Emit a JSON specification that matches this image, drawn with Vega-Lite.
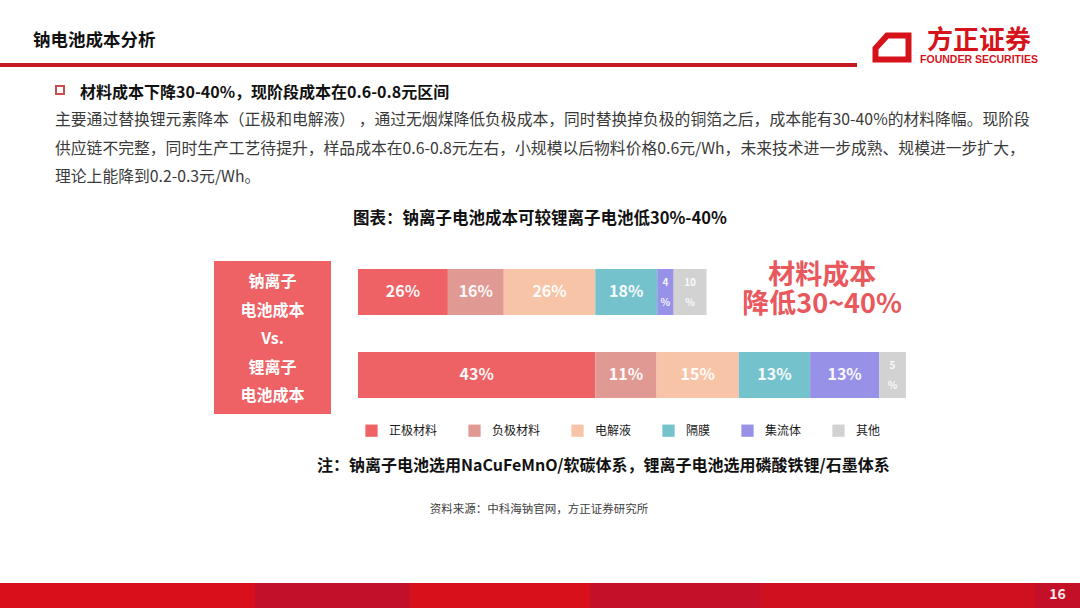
{
  "$schema": "https://vega.github.io/schema/vega-lite/v6.json",
  "background": "#ffffff",
  "padding": 0,
  "bounds": "flush",
  "spacing": 0,
  "resolve": {"scale": {"color": "independent"}, "legend": {"color": "independent"}},
  "config": {
    "font": "Noto Sans CJK SC",
    "view": {"stroke": null},
    "title": {"font": "Noto Sans CJK SC", "subtitleFont": "Noto Sans CJK SC"},
    "text": {"font": "Noto Sans CJK SC"},
    "legend": {"labelFont": "Noto Sans CJK SC"}
  },
  "datasets": {
    "costs": [
      {"battery": "钠离子电池", "component": "正极材料", "idx": 1, "share": 0.26, "cost": 16.4, "label": "26%"},
      {"battery": "钠离子电池", "component": "负极材料", "idx": 2, "share": 0.16, "cost": 10.2, "label": "16%"},
      {"battery": "钠离子电池", "component": "电解液", "idx": 3, "share": 0.26, "cost": 16.7, "label": "26%"},
      {"battery": "钠离子电池", "component": "隔膜", "idx": 4, "share": 0.18, "cost": 11.3, "label": "18%"},
      {"battery": "钠离子电池", "component": "集流体", "idx": 5, "share": 0.04, "cost": 3.0, "label": "4\n%"},
      {"battery": "钠离子电池", "component": "其他", "idx": 6, "share": 0.10, "cost": 6.0, "label": "10\n%"},
      {"battery": "锂离子电池", "component": "正极材料", "idx": 1, "share": 0.43, "cost": 43.3, "label": "43%"},
      {"battery": "锂离子电池", "component": "负极材料", "idx": 2, "share": 0.11, "cost": 11.2, "label": "11%"},
      {"battery": "锂离子电池", "component": "电解液", "idx": 3, "share": 0.15, "cost": 15.0, "label": "15%"},
      {"battery": "锂离子电池", "component": "隔膜", "idx": 4, "share": 0.13, "cost": 13.0, "label": "13%"},
      {"battery": "锂离子电池", "component": "集流体", "idx": 5, "share": 0.13, "cost": 12.6, "label": "13%"},
      {"battery": "锂离子电池", "component": "其他", "idx": 6, "share": 0.05, "cost": 4.9, "label": "5\n%"}
    ],
    "box": [
      {"line": 1, "text": "钠离子"},
      {"line": 2, "text": "电池成本"},
      {"line": 3, "text": "Vs."},
      {"line": 4, "text": "锂离子"},
      {"line": 5, "text": "电池成本"}
    ],
    "logo": [{"cn": "方正证券", "en": "FOUNDER SECURITIES"}],
    "callout": [{"text": ["材料成本", "降低30~40%"]}],
    "page": [{"page": "16"}]
  },
  "vconcat": [
    {
      "width": 1080, "height": 32,
      "data": {"values": []}, "mark": "rect", "encoding": {},
      "title": {"text": "钠电池成本分析", "orient": "bottom", "anchor": "start", "frame": "group", "dx": 33, "offset": 0, "fontSize": 17.5, "fontWeight": "bold", "color": "#111111"}
    },
    {
      "hconcat": [
        {"width": 870, "height": 31, "data": {"values": []}, "mark": "rect", "encoding": {}},
        {
          "width": 44, "height": 31,
          "data": {"name": "logo"},
          "mark": {"type": "point", "shape": "M -0.3,-0.72 L 1,-0.72 L 1,0.72 L -1,0.72 L -1,0.05 Z", "size": 1089, "filled": false, "stroke": "#D6131B", "strokeWidth": 6, "strokeJoin": "miter", "opacity": 1},
          "encoding": {}
        },
        {
          "width": 130, "height": 31,
          "data": {"name": "logo"},
          "layer": [
            {"mark": {"type": "text", "fontSize": 26, "fontWeight": "bold", "color": "#D6131B", "baseline": "middle", "dy": -7}, "encoding": {"text": {"field": "cn"}}},
            {"mark": {"type": "text", "fontSize": 10.5, "fontWeight": "bold", "font": "Liberation Sans", "color": "#D6131B", "baseline": "middle", "dy": 12.5}, "encoding": {"text": {"field": "en"}}}
          ]
        }
      ],
      "bounds": "flush",
      "spacing": 0
    },
    {"width": 1, "height": 31, "data": {"values": []}, "mark": "rect", "encoding": {}},
    {
      "width": 857, "height": 4,
      "view": {"fill": "#C51A22"},
      "data": {"values": []}, "mark": "rect", "encoding": {},
      "title": {
        "text": [
          "主要通过替换锂元素降本（正极和电解液） ，通过无烟煤降低负极成本，同时替换掉负极的铜箔之后，成本能有30-40%的材料降幅。现阶段",
          "供应链不完整，同时生产工艺待提升，样品成本在0.6-0.8元左右，小规模以后物料价格0.6元/Wh，未来技术进一步成熟、规模进一步扩大，",
          "理论上能降到0.2-0.3元/Wh。"
        ],
        "orient": "bottom", "anchor": "start", "frame": "group", "dx": 55, "offset": 46,
        "fontSize": 15.8, "fontWeight": "normal", "color": "#3a3a3a", "lineHeight": 28.5
      }
    },
    {
      "width": 120, "height": 46,
      "data": {"name": "page"},
      "mark": {"type": "point", "shape": "square", "size": 64, "filled": false, "stroke": "#C00000", "strokeWidth": 2},
      "encoding": {},
      "title": {"text": "材料成本下降30-40%，现阶段成本在0.6-0.8元区间", "orient": "bottom", "anchor": "start", "frame": "group", "dx": 80, "offset": -28, "fontSize": 16, "fontWeight": "bold", "color": "#111111"}
    },
    {"width": 1, "height": 148, "data": {"values": []}, "mark": "rect", "encoding": {}},
    {
      "hconcat": [
        {"width": 214, "height": 153, "data": {"values": []}, "mark": "rect", "encoding": {}},
        {
          "width": 117, "height": 153,
          "view": {"fill": "#EE6164"},
          "data": {"name": "box"},
          "mark": {"type": "text", "color": "#ffffff", "fontSize": 16, "fontWeight": "bold", "baseline": "middle"},
          "encoding": {
            "y": {"field": "line", "type": "ordinal", "axis": null, "scale": {"type": "point", "padding": 0.68, "align": 0.54}},
            "text": {"field": "text"}
          }
        },
        {"width": 27, "height": 153, "data": {"values": []}, "mark": "rect", "encoding": {}},
        {
          "width": 548, "height": 153,
          "title": {"text": "图表：钠离子电池成本可较锂离子电池低30%-40%", "anchor": "start", "frame": "group", "dx": -5, "offset": 34, "fontSize": 16.5, "fontWeight": "bold", "color": "#111111"},
          "layer": [
            {
              "data": {"name": "costs"},
              "transform": [
                {"stack": "cost", "groupby": ["battery"], "sort": [{"field": "idx", "order": "ascending"}], "as": ["x0", "x1"]},
                {"calculate": "(datum.x0 + datum.x1) / 2", "as": "xm"}
              ],
              "encoding": {
                "y": {"field": "battery", "type": "nominal", "sort": ["钠离子电池", "锂离子电池"], "axis": null, "scale": {"paddingInner": 0.446, "paddingOuter": 0.1446, "align": 0.333}}
              },
              "layer": [
                {
                  "mark": {"type": "bar"},
                  "encoding": {
                    "x": {"field": "x0", "type": "quantitative", "axis": null, "scale": {"domain": [0, 100], "nice": false}},
                    "x2": {"field": "x1"},
                    "color": {
                      "field": "component", "type": "nominal",
                      "scale": {"domain": ["正极材料", "负极材料", "电解液", "隔膜", "集流体", "其他"], "range": ["#EE6165", "#E19A93", "#F8C4A7", "#74C2CC", "#9891E8", "#D2D2D2"]},
                      "legend": {"orient": "bottom", "direction": "horizontal", "title": null, "symbolType": "square", "symbolSize": 150, "symbolStrokeWidth": 0, "labelFontSize": 12, "labelColor": "#1a1a1a", "labelOffset": 11, "columnPadding": 30, "offset": 3, "padding": 7}
                    }
                  }
                },
                {
                  "transform": [{"filter": "datum.share >= 0.11"}],
                  "mark": {"type": "text", "color": "#ffffff", "fontWeight": "bold", "fontSize": 16, "baseline": "middle", "opacity": 0.95},
                  "encoding": {
                    "x": {"field": "xm", "type": "quantitative"},
                    "text": {"field": "label"}
                  }
                },
                {
                  "transform": [{"filter": "datum.share < 0.11"}],
                  "mark": {"type": "text", "color": "#ffffff", "fontWeight": "bold", "fontSize": 10, "baseline": "middle", "lineBreak": "\n", "lineHeight": 20, "dy": -9, "opacity": 0.9},
                  "encoding": {
                    "x": {"field": "xm", "type": "quantitative"},
                    "text": {"field": "label"}
                  }
                }
              ]
            },
            {
              "data": {"name": "callout"},
              "mark": {"type": "text", "fontSize": 27, "fontWeight": "bold", "color": "#E8585C", "baseline": "middle", "lineHeight": 29, "dy": -16},
              "encoding": {
                "x": {"datum": 84.7},
                "y": {"datum": "钠离子电池"},
                "text": {"field": "text"}
              }
            }
          ]
        }
      ],
      "bounds": "flush",
      "spacing": 0,
      "resolve": {"scale": {"color": "independent"}, "legend": {"color": "independent"}}
    },
    {"width": 1, "height": 153, "data": {"values": []}, "mark": "rect", "encoding": {}},
    {
      "width": 1080, "height": 44,
      "data": {"values": []}, "mark": "rect", "encoding": {},
      "title": {"text": "注：钠离子电池选用NaCuFeMnO/软碳体系，锂离子电池选用磷酸铁锂/石墨体系", "orient": "bottom", "anchor": "start", "frame": "group", "dx": 317, "offset": 0, "fontSize": 16, "fontWeight": "bold", "color": "#111111"}
    },
    {
      "width": 1080, "height": 46,
      "data": {"values": []}, "mark": "rect", "encoding": {},
      "title": {"text": "资料来源：中科海钠官网，方正证券研究所", "orient": "bottom", "anchor": "middle", "frame": "group", "dx": -1, "offset": 0, "fontSize": 11.5, "fontWeight": "normal", "color": "#404040"}
    },
    {"width": 1, "height": 79, "data": {"values": []}, "mark": "rect", "encoding": {}},
    {
      "hconcat": [
        {"width": 255, "height": 25, "view": {"fill": "#D9101C"}, "data": {"values": []}, "mark": "rect", "encoding": {}},
        {"width": 155, "height": 25, "view": {"fill": "#C2102A"}, "data": {"values": []}, "mark": "rect", "encoding": {}},
        {"width": 180, "height": 25, "view": {"fill": "#D8101C"}, "data": {"values": []}, "mark": "rect", "encoding": {}},
        {"width": 170, "height": 25, "view": {"fill": "#C5102A"}, "data": {"values": []}, "mark": "rect", "encoding": {}},
        {"width": 275, "height": 25, "view": {"fill": "#CF101F"}, "data": {"values": []}, "mark": "rect", "encoding": {}},
        {
          "width": 45, "height": 25, "view": {"fill": "#C40F28"},
          "data": {"name": "page"},
          "mark": {"type": "text", "color": "#F6E8E8", "fontSize": 14, "fontWeight": "bold", "baseline": "middle", "dy": -1},
          "encoding": {"text": {"field": "page"}}
        }
      ],
      "bounds": "flush",
      "spacing": 0
    },
    {"width": 1, "height": 25, "data": {"values": []}, "mark": "rect", "encoding": {}}
  ]
}
